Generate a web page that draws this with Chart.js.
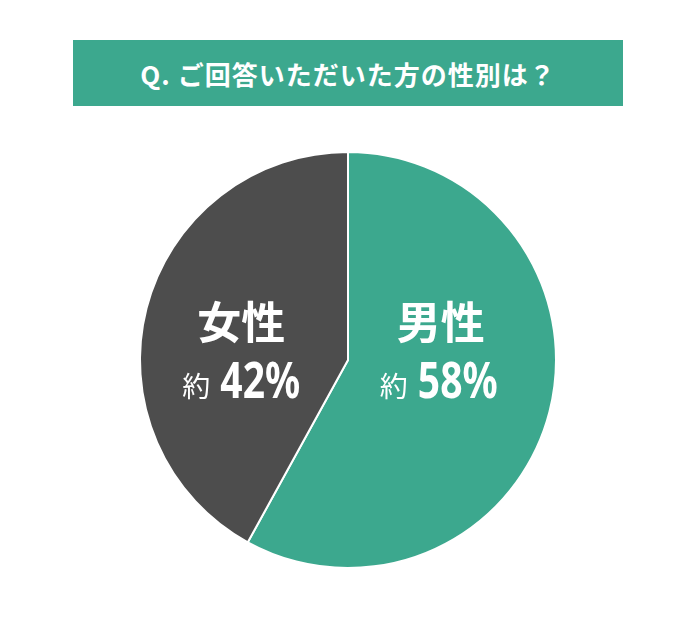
<!DOCTYPE html>
<html lang="ja">
<head>
<meta charset="utf-8">
<script src="https://cdn.jsdelivr.net/npm/chart.js@4.4.1/dist/chart.umd.min.js"></script>
<style>
  html, body { margin: 0; padding: 0; background: #fff; }
  #wrap { position: relative; width: 696px; height: 626px; }
  #banner {
    position: absolute; left: 73px; top: 40px; width: 550px; height: 66px;
    background: #3ca88e; color: #fff;
    font-family: "Noto Sans CJK JP", "Noto Sans", sans-serif; font-weight: 700; font-size: 26px;
    display: flex; align-items: center; justify-content: center; letter-spacing: 1px;
  }
  #pieChart { position: absolute; left: 0; top: 0; }
</style>
</head>
<body>
<div id="wrap">
  <canvas id="pieChart" width="696" height="626"></canvas>
  <div id="banner">Q. ご回答いただいた方の性別は？</div>
</div>
<script>
const titleText = 'Q. ご回答いただいた方の性別は？';
const categories = ['男性', '女性'];
const shares = [58, 42];
const colors = ['#3ca88e', '#4d4d4d'];

// draw the two-line labels inside each slice
const sliceLabels = {
    id: 'sliceLabels',
    afterDatasetsDraw(chart) {
        const ctx = chart.ctx;
        const meta = chart.getDatasetMeta(0);
        const numFont = '700 50px "Noto Sans", sans-serif';
        const squeeze = 0.78;   // narrow the digits like a condensed face
        meta.data.forEach((arc, i) => {
            const mid = (arc.startAngle + arc.endAngle) / 2;
            const x = arc.x + Math.cos(mid) * arc.outerRadius * 0.5 - (i === 0 ? 10 : 6);
            const y = arc.y;
            ctx.save();
            ctx.fillStyle = '#fff';
            ctx.textAlign = 'center';
            ctx.textBaseline = 'middle';
            ctx.font = '700 44px "Noto Sans CJK JP", sans-serif';
            ctx.fillText(categories[i], x + (i === 0 ? 2 : 0), y - 38);

            // "約" + number
            const pre = '約';
            const num = shares[i] + '%';
            ctx.font = '400 28px "Noto Sans CJK JP", sans-serif';
            const wPre = ctx.measureText(pre).width;
            ctx.font = numFont;
            const wNum = ctx.measureText(num).width * squeeze;
            const gap = 10;
            const left = x - (wPre + gap + wNum) / 2;
            ctx.textAlign = 'left';
            ctx.font = '400 28px "Noto Sans CJK JP", sans-serif';
            ctx.fillText(pre, left, y + 26);
            ctx.font = numFont;
            ctx.translate(left + wPre + gap, y + 24);
            ctx.scale(squeeze, 1);
            ctx.fillText(num, 0, 0);
            ctx.restore();
        });
    }
};

function initChart() {
    const ctx = document.getElementById('pieChart').getContext('2d');
    new Chart(ctx, {
        type: 'pie',
        data: {
            labels: categories,
            datasets: [{
                data: shares,
                backgroundColor: colors,
                borderColor: '#ffffff',
                borderWidth: 2
            }]
        },
        options: {
            responsive: false, animation: false,
            layout: { padding: { top: 151, bottom: 57, left: 139, right: 139 } },
            plugins: {
                legend: { display: false },
                tooltip: { enabled: false },
                title: { display: false, text: titleText }
            }
        },
        plugins: [sliceLabels]
    });
}

initChart();
</script>
</body>
</html>
